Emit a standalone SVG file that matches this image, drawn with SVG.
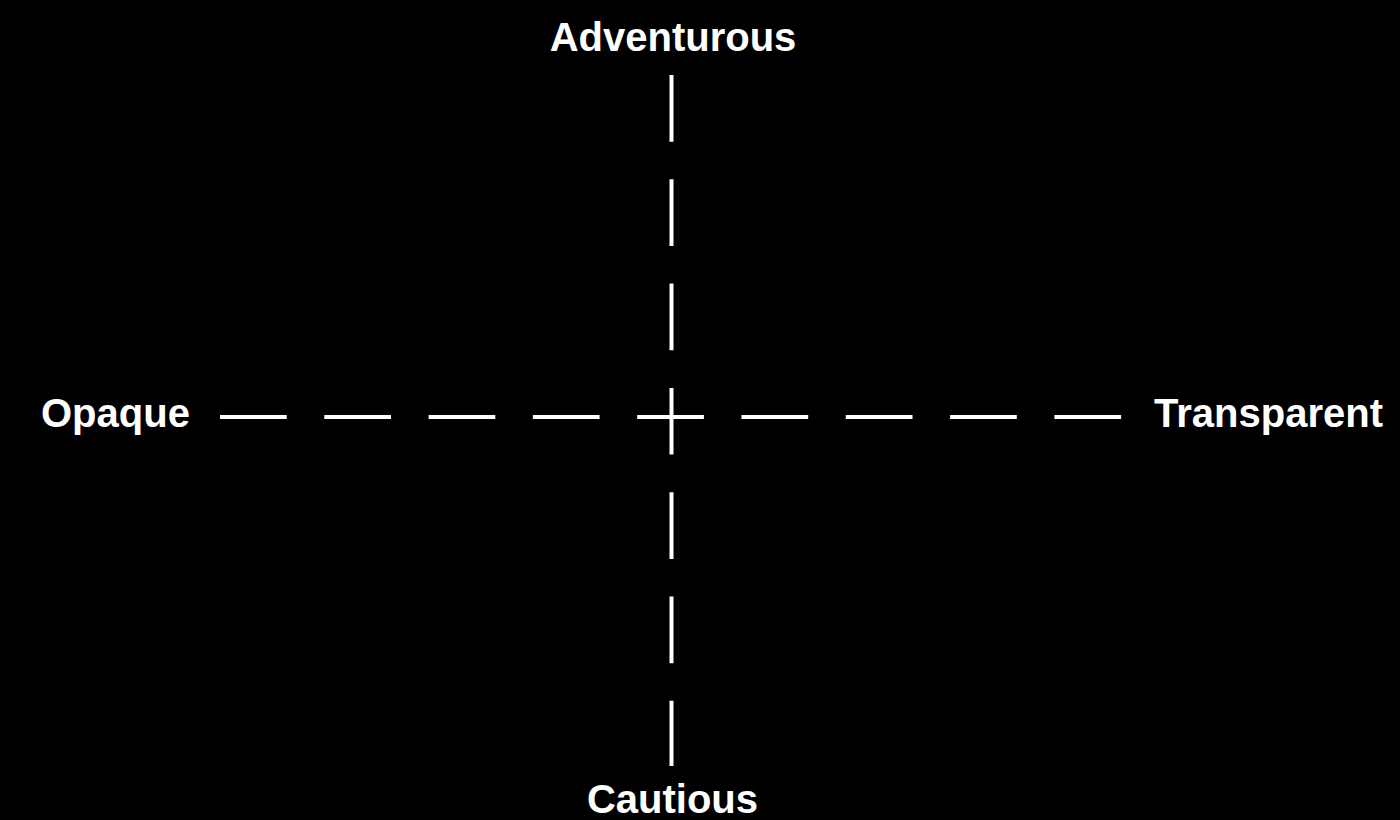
<svg xmlns="http://www.w3.org/2000/svg" width="1400" height="820" viewBox="0 0 1400 820">
  <style>
    .lbl { font-family: "Liberation Sans", Arial, Helvetica, sans-serif; font-weight: bold; font-size: 40px; fill: #ffffff; }
    .axis { stroke: #ffffff; stroke-width: 4; stroke-dasharray: 66.7 37.6; fill: none; }
  </style>
  <rect x="0" y="0" width="1400" height="820" fill="#000000"/>
  <g id="connectors">
    <line class="axis" x1="671.5" y1="75" x2="671.5" y2="766"/>
    <line class="axis" x1="220" y1="417" x2="1122" y2="417"/>
  </g>
  <g id="node-adventurous"><text class="lbl" x="673" y="51" text-anchor="middle">Adventurous</text></g>
  <g id="node-cautious"><text class="lbl" x="672.5" y="813" text-anchor="middle">Cautious</text></g>
  <g id="node-opaque"><text class="lbl" x="41" y="427">Opaque</text></g>
  <g id="node-transparent"><text class="lbl" x="1154" y="427">Transparent</text></g>
</svg>
